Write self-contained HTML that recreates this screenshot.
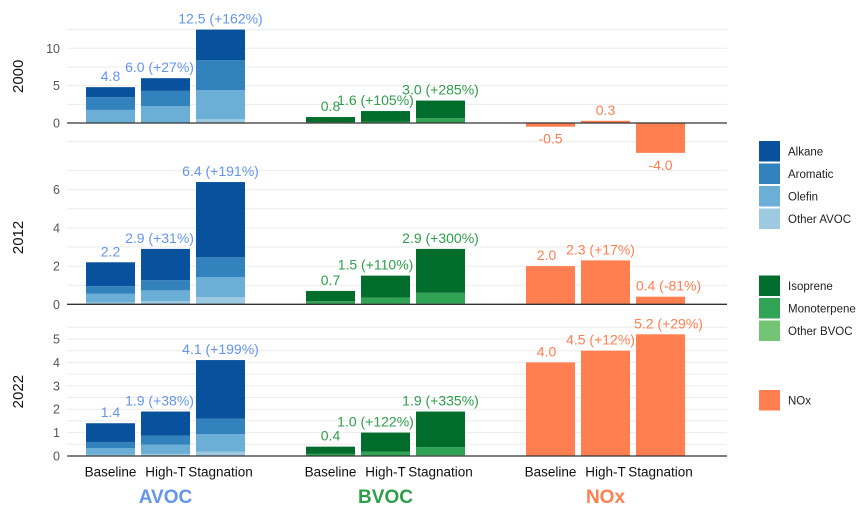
<!DOCTYPE html>
<html><head><meta charset="utf-8">
<style>
html,body{margin:0;padding:0;background:#fff;}
svg{display:block;font-family:"Liberation Sans",sans-serif;}
</style></head>
<body>
<svg id="chart" width="864" height="513" viewBox="0 0 864 513"></svg>
<script>
const categories = ["Baseline","High-T","Stagnation"];
const years = ["2000","2012","2022"];
// AVOC stacks [other, olefin, aromatic, alkane] per year per scenario
const avocOther = [[0.05,0.05,0.5],[0.1,0.17,0.38],[0.05,0.09,0.19]];
const avocOlefin = [[1.7,2.2,3.9],[0.45,0.56,1.05],[0.28,0.39,0.74]];
const avocAromatic = [[1.7,2.05,4.0],[0.4,0.53,1.03],[0.27,0.39,0.67]];
const avocAlkane = [[1.35,1.7,4.1],[1.25,1.64,3.94],[0.8,1.03,2.5]];
// BVOC stacks [other, monoterpene, isoprene]
const bvocOther = [[0.02,0.02,0.05],[0.02,0.02,0.03],[0.01,0.02,0.03]];
const bvocMono = [[0.08,0.18,0.6],[0.14,0.33,0.57],[0.08,0.16,0.35]];
const bvocIsoprene = [[0.7,1.4,2.35],[0.54,1.15,2.3],[0.31,0.82,1.52]];
const noxValues = [[-0.5,0.3,-4.0],[2.0,2.3,0.4],[4.0,4.5,5.2]];
const avocLabels = [["4.8","6.0 (+27%)","12.5 (+162%)"],["2.2","2.9 (+31%)","6.4 (+191%)"],["1.4","1.9 (+38%)","4.1 (+199%)"]];
const bvocLabels = [["0.8","1.6 (+105%)","3.0 (+285%)"],["0.7","1.5 (+110%)","2.9 (+300%)"],["0.4","1.0 (+122%)","1.9 (+335%)"]];
const noxLabels = [["-0.5","0.3","-4.0"],["2.0","2.3 (+17%)","0.4 (-81%)"],["4.0","4.5 (+12%)","5.2 (+29%)"]];
const yTicks = [[0,5,10],[0,2,4,6],[0,1,2,3,4,5]];
const gridSteps = [2.5,1,0.5];
const gridRanges = [[-2.5,12.5],[0,7],[0,5.5]];

const panels = [{zero:123,ppu:7.47},{zero:304.3,ppu:19.1},{zero:456,ppu:23.4}];
// horizontal label nudges (repel) per group per scenario
const nudgeX = [[0,-6,0],[0,-10,0],[-4,-5,8]];
const NS="http://www.w3.org/2000/svg";
const svg=document.getElementById('chart');
function el(tag,attrs,parent){const e=document.createElementNS(NS,tag);for(const k in attrs)e.setAttribute(k,attrs[k]);(parent||svg).appendChild(e);return e;}
const xL=67,xR=727,barW=49;
function xPos(g,i){return 86+g*220+i*55;}
function yPos(p,v){return panels[p].zero-v*panels[p].ppu;}
const avocCols=["#9ecae1","#6baed6","#3182bd","#08519c"];
const bvocCols=["#74c476","#31a354","#006d2c"];
const NOXC="#ff7f50", AVC="#6495ed", BVC="#2e9e4a";
const labelLayer=[];

years.forEach((yr,p)=>{
  const g=el('g',{});
  
  
  for(let v=gridRanges[p][0];v<=gridRanges[p][1]+1e-9;v+=gridSteps[p]){
    if(Math.abs(v)<1e-9)continue;
    const l=el('line',{x1:xL,x2:xR,y1:yPos(p,v),y2:yPos(p,v),stroke:"#ebebeb","stroke-width":1},g);
    
    
  }
  yTicks[p].forEach(t=>{
    const tx=el('text',{x:60,y:yPos(p,t)+4.5,"text-anchor":"end","font-size":12.5,fill:"#555"},g);
    tx.textContent=t;
    
    
  });
  const yc=(yPos(p,gridRanges[p][1])+panels[p].zero)/2;
  const yl=el('text',{x:0,y:0,transform:`translate(23,${yc}) rotate(-90)`,"text-anchor":"middle","font-size":15,fill:"#111"},g);
  yl.textContent=yr;
  
  
  categories.forEach((c,i)=>{
    let base=0;
    [avocOther,avocOlefin,avocAromatic,avocAlkane].forEach((arr,k)=>{
      const v=arr[p][i];
      const r=el('rect',{x:xPos(0,i),y:yPos(p,base+v),width:barW,height:v*panels[p].ppu,fill:avocCols[k]},g);
      
      
      base+=v;
    });
    labelLayer.push({x:xPos(0,i)+barW/2+nudgeX[0][i],y:yPos(p,base)-6,t:avocLabels[p][i],c:AVC,n:'avoc-value-label'});
    base=0;
    [bvocOther,bvocMono,bvocIsoprene].forEach((arr,k)=>{
      const v=arr[p][i];
      const r=el('rect',{x:xPos(1,i),y:yPos(p,base+v),width:barW,height:v*panels[p].ppu,fill:bvocCols[k]},g);
      
      
      base+=v;
    });
    labelLayer.push({x:xPos(1,i)+barW/2+nudgeX[1][i],y:yPos(p,base)-6,t:bvocLabels[p][i],c:BVC,n:'bvoc-value-label'});
    const v=noxValues[p][i];
    const r=el('rect',{x:xPos(2,i),y:Math.min(yPos(p,v),yPos(p,0)),width:barW,height:Math.abs(v)*panels[p].ppu,fill:NOXC},g);
    
    
    labelLayer.push({x:xPos(2,i)+barW/2+(p===0?0:nudgeX[2][i]),y:v>=0?yPos(p,v)-6:yPos(p,v)+17,t:noxLabels[p][i],c:NOXC,n:'nox-value-label'});
  });
  const ax=el('line',{x1:xL,x2:xR,y1:panels[p].zero,y2:panels[p].zero,stroke:"#333","stroke-width":1.3},g);
  
  
});
labelLayer.forEach(L=>{
  const t=el('text',{x:L.x,y:L.y,"text-anchor":"middle","font-size":14,fill:L.c});
  t.textContent=L.t;
  
  
});
[0,1,2].forEach(g=>{
  categories.forEach((c,i)=>{
    const t=el('text',{x:xPos(g,i)+barW/2,y:476.5,"text-anchor":"middle","font-size":13.5,fill:"#111"});
    t.textContent=c;
    
    
  });
});
const groupNames=["AVOC","BVOC","NOx"],groupCols=[AVC,BVC,NOXC];
groupNames.forEach((n,g)=>{
  const t=el('text',{x:xPos(g,1)+barW/2,y:503,"text-anchor":"middle","font-size":19,"font-weight":"bold",fill:groupCols[g]});
  t.textContent=n;
  
  
});
const legendNames=["Alkane","Aromatic","Olefin","Other AVOC","Isoprene","Monoterpene","Other BVOC","NOx"];
const legendCols=["#08519c","#3182bd","#6baed6","#9ecae1","#006d2c","#31a354","#74c476",NOXC];
const legendY=[141,163.5,186,208.5,275.5,298,320.5,390];
legendNames.forEach((n,k)=>{
  const r=el('rect',{x:759,y:legendY[k],width:21,height:20.5,fill:legendCols[k]});
  
  
  const t=el('text',{x:788,y:legendY[k]+14.5,"font-size":11.5,fill:"#222"});
  t.textContent=n;
  
  
});
</script>
</body></html>
